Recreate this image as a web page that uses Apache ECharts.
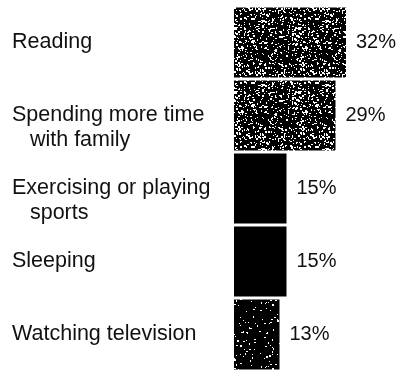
<!DOCTYPE html>
<html>
<head>
<meta charset="utf-8">
<script src="https://cdn.jsdelivr.net/npm/echarts@6/dist/echarts.min.js"></script>
<style>
  html, body { margin: 0; padding: 0; background: #fff; }
  #chart { width: 400px; height: 371px; }
</style>
</head>
<body>
<div id="chart"></div>
<script>
// Activities and the share of people naming each one (percent)
const categories = [
  'Reading',
  'Spending more time\nwith family',
  'Exercising or playing\nsports',
  'Sleeping',
  'Watching television'
];
const shares = [32, 29, 15, 15, 13];

// Speckled black fill, like a coarse print screen
function speckle(density, seed) {
  const size = 64;
  const c = document.createElement('canvas');
  c.width = size; c.height = size;
  const ctx = c.getContext('2d');
  ctx.fillStyle = '#000';
  ctx.fillRect(0, 0, size, size);
  let s = seed;
  const rnd = () => { s = (s * 1103515245 + 12345) % 2147483648; return s / 2147483648; };
  ctx.fillStyle = '#fff';
  const n = Math.round(size * size * density);
  for (let i = 0; i < n; i++) {
    const x = Math.floor(rnd() * size), y = Math.floor(rnd() * size);
    const w = rnd() < 0.35 ? 2 : 1, h = rnd() < 0.35 ? 2 : 1;
    ctx.fillRect(x, y, w, h);
  }
  return { image: c, repeat: 'repeat' };
}

const heavy = speckle(0.12, 7);
const light = speckle(0.03, 19);
const fills = [heavy, heavy, '#000', '#000', light];

const chart = echarts.init(document.getElementById('chart'), null, { renderer: 'canvas' });

chart.setOption({
  animation: false,
  backgroundColor: '#fff',
  grid: { left: 234, width: 140, top: 6, height: 369, containLabel: false },
  xAxis: {
    type: 'value', min: 0, max: 40, show: false
  },
  yAxis: {
    type: 'category',
    inverse: true,
    data: categories,
    axisLine: { show: false },
    axisTick: { show: false },
    splitLine: { show: false },
    axisLabel: {
      margin: 222,
      align: 'left',
      verticalAlign: 'middle',
      color: '#111',
      fontFamily: '"Liberation Sans", Arial, sans-serif',
      fontSize: 21.5,
      lineHeight: 25,
      formatter: function (v) {
        const lines = v.split('\n');
        if (lines.length === 1) return v;
        // blank first line keeps the first text line level with the bar
        return ' \n' + lines[0] + '\n   ' + lines[1];
      }
    }
  },
  series: [{
    type: 'bar',
    data: shares.map((v, i) => ({ value: v, itemStyle: { color: fills[i] } })),
    barCategoryGap: '4%',
    label: {
      show: true,
      position: 'right',
      distance: 10,
      formatter: '{c}%',
      color: '#111',
      fontFamily: '"Liberation Sans", Arial, sans-serif',
      fontSize: 20
    }
  }]
});
</script>
</body>
</html>
